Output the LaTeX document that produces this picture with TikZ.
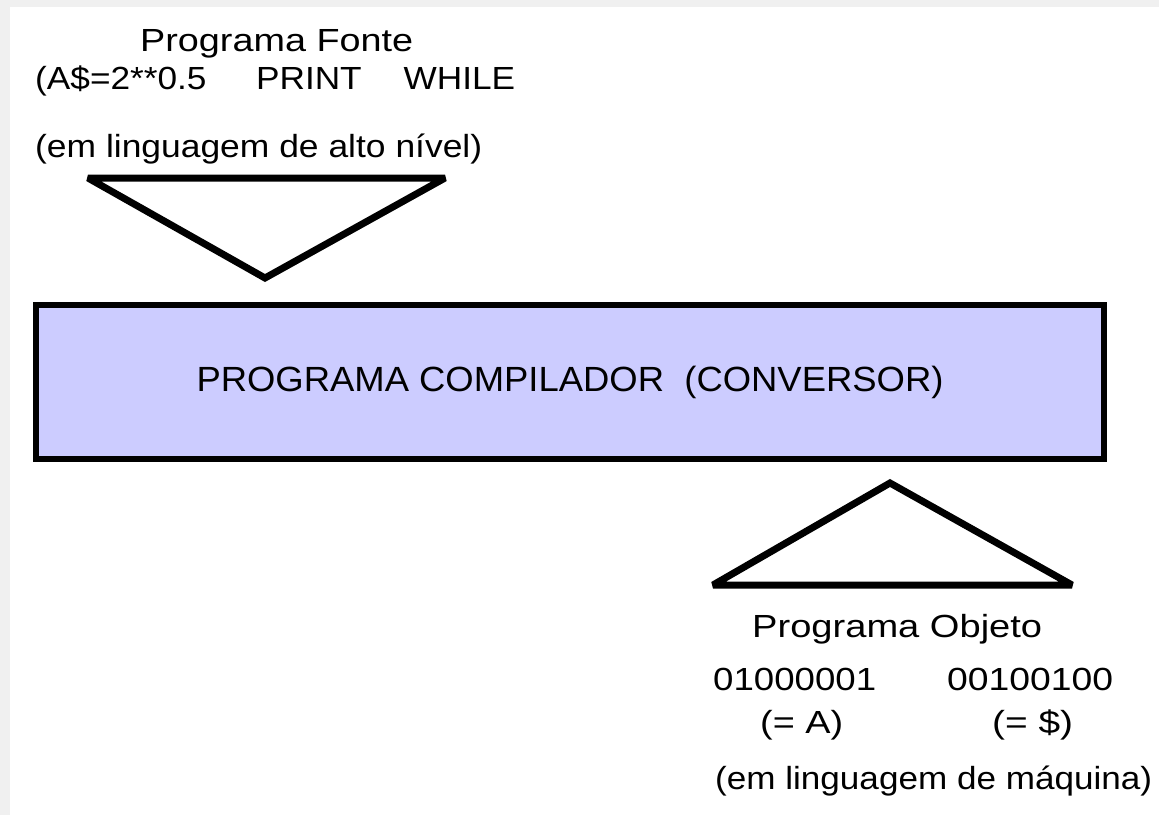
\documentclass[tikz,border=0pt]{standalone}
\usepackage{fontspec}
\setmainfont{Liberation Sans}
\usepackage{graphicx}
\definecolor{lav}{RGB}{204,204,255}
\definecolor{frame}{RGB}{240,240,240}
\newcommand{\fw}[2]{\resizebox{#1}{\height}{#2}}
\begin{document}
\begin{tikzpicture}[x=1pt,y=-1pt,
  lbl/.style={inner sep=0pt, anchor=base west, font=\fontsize{32}{38}\selectfont},
  tri/.style={draw=black, line width=7pt, line join=miter, miter limit=2},
  box/.style={draw=black, line width=6pt, fill=lav, inner sep=0pt,
    minimum width=1068pt, minimum height=154pt, font=\fontsize{35}{40}\selectfont}]
\useasboundingbox (0,0) rectangle (1159,815);
\fill[white] (0,0) rectangle (1159,815);
\fill[frame] (0,0) rectangle (1159,7);
\fill[frame] (0,0) rectangle (10,815);
% source program texts
\node[lbl] (srctitle) at (140,51) {\fw{273pt}{Programa Fonte}};
\node[lbl] (srccode) at (35,89) {\fw{480pt}{(A\$=2**0.5\hspace{45pt}PRINT\hspace{38pt}WHILE}};
\node[lbl] (srclang) at (35,157) {\fw{447pt}{(em linguagem de alto nível)}};
% input funnel
\coordinate (inL) at (88,178);
\coordinate (inR) at (445,178);
\coordinate (inT) at (265,278);
\draw[tri] (inL) -- (inR) -- (inT) -- cycle;
% compiler box
\node[box] (comp) at (570,382) {\fw{747pt}{PROGRAMA COMPILADOR\ \ (CONVERSOR)}};
% output funnel
\coordinate (outL) at (713,585);
\coordinate (outR) at (1072,585);
\coordinate (outT) at (890,483);
\draw[tri] (outL) -- (outR) -- (outT) -- cycle;
% object program texts
\node[lbl] (objtitle) at (752,637) {\fw{290pt}{Programa Objeto}};
\node[lbl] (bitsA) at (713,690) {\fw{163pt}{01000001}};
\node[lbl] (bitsD) at (947,690) {\fw{166pt}{00100100}};
\node[lbl] (eqA) at (760,733) {\fw{83pt}{(= A)}};
\node[lbl] (eqD) at (992,733) {\fw{81pt}{(= \$)}};
\node[lbl] (objlang) at (715,789) {\fw{437pt}{(em linguagem de máquina)}};
\end{tikzpicture}
\end{document}
